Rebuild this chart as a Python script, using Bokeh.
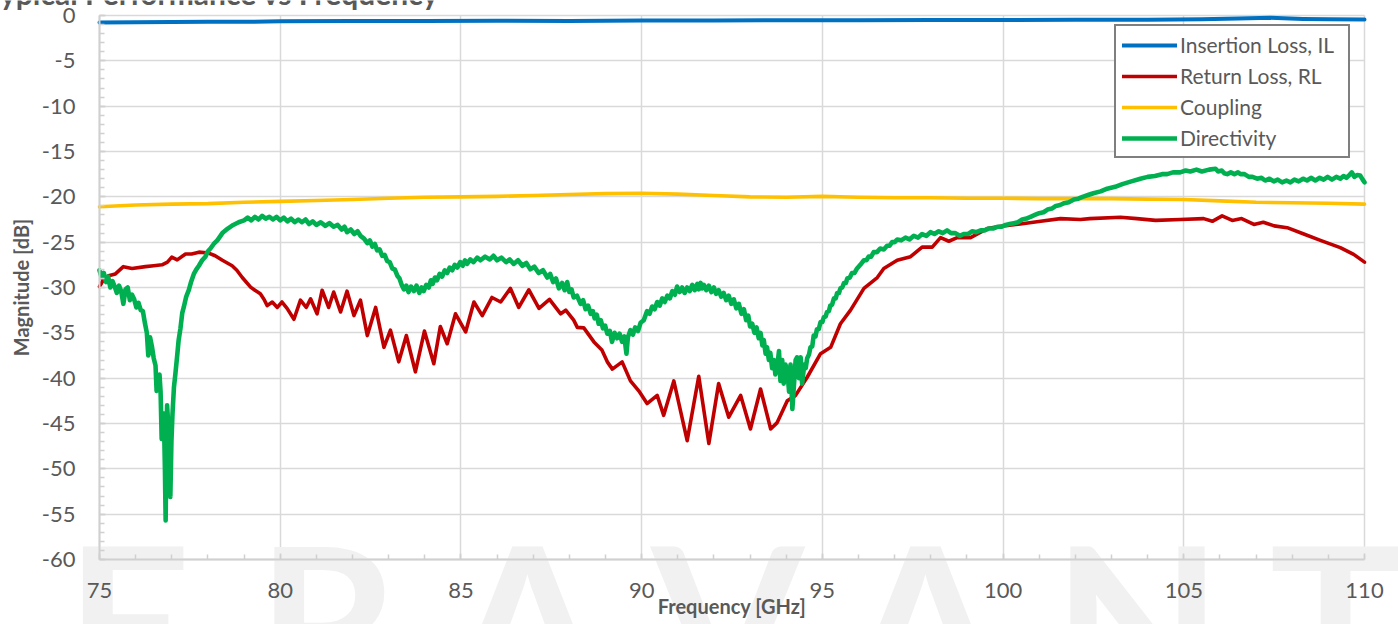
import math
from bokeh.plotting import figure
from bokeh.models import Range1d, SingleIntervalTicker, Label, Legend, LegendItem
from bokeh.embed import file_html
from bokeh.resources import INLINE

# ---------------- data ----------------
il_pts = [(75.0, -0.77), (76.0, -0.74), (77.0, -0.72), (78.0, -0.70), (79.0, -0.70), (80.0, -0.64),
          (82.0, -0.62), (84.0, -0.60), (86.0, -0.58), (88.0, -0.60), (90.0, -0.56), (92.0, -0.55),
          (94.0, -0.53), (96.0, -0.52), (98.0, -0.50), (100.0, -0.49), (102.0, -0.47), (104.0, -0.46),
          (105.5, -0.42), (106.5, -0.32), (107.4, -0.26), (108.3, -0.38), (109.0, -0.42), (110.0, -0.44)]

rl_pts = [(75.00, -29.9), (75.10, -29.2), (75.25, -28.7), (75.44, -28.5), (75.66, -27.7), (75.90, -27.9),
          (76.27, -27.7), (76.50, -27.6), (76.73, -27.5), (76.88, -27.2), (77.00, -26.65), (77.15, -26.95),
          (77.38, -26.3), (77.55, -26.3), (77.75, -26.1), (78.02, -26.2), (78.20, -26.5), (78.40, -27.0),
          (78.67, -27.6), (78.80, -28.1), (78.95, -28.9), (79.18, -29.96), (79.30, -30.3), (79.45, -30.7),
          (79.55, -31.3), (79.64, -32.0), (79.78, -31.6), (79.92, -32.2), (80.05, -31.6), (80.19, -32.3),
          (80.38, -33.5), (80.56, -31.4), (80.72, -32.2), (80.84, -31.25), (81.02, -32.9), (81.16, -30.3),
          (81.34, -32.2), (81.48, -30.5), (81.67, -32.7), (81.85, -30.4), (82.04, -33.1), (82.22, -31.4),
          (82.41, -35.3), (82.64, -32.2), (82.87, -36.6), (83.05, -34.7), (83.28, -38.2), (83.49, -35.3),
          (83.74, -39.3), (83.99, -34.8), (84.25, -38.4), (84.43, -34.3), (84.62, -36.2), (84.85, -32.9),
          (85.13, -34.9), (85.36, -31.6), (85.59, -33.1), (85.86, -31.1), (86.10, -31.6), (86.37, -30.1),
          (86.60, -32.2), (86.88, -30.25), (87.16, -32.3), (87.45, -31.3), (87.76, -32.9), (87.90, -32.5),
          (88.12, -33.6), (88.22, -34.4), (88.40, -34.45), (88.68, -36.0), (88.90, -36.9), (89.05, -38.2),
          (89.19, -39.0), (89.46, -38.2), (89.69, -40.3), (89.92, -41.4), (90.15, -42.8), (90.43, -41.9),
          (90.61, -44.1), (90.89, -40.3), (91.26, -46.9), (91.58, -39.8), (91.86, -47.2), (92.13, -40.6),
          (92.41, -44.3), (92.74, -41.9), (93.01, -45.6), (93.29, -41.2), (93.57, -45.6), (93.75, -44.9),
          (94.03, -42.5), (94.26, -41.9), (94.58, -39.9), (94.95, -37.3), (95.23, -36.6), (95.50, -34.0),
          (95.78, -32.5), (96.15, -30.1), (96.52, -28.9), (96.70, -27.9), (97.07, -27.0), (97.44, -26.6),
          (97.76, -25.55), (98.04, -25.55), (98.27, -24.5), (98.50, -24.9), (98.73, -24.5), (99.10, -24.5),
          (99.56, -23.5), (100.02, -23.2), (100.48, -23.0), (101.04, -22.7), (101.59, -22.4), (102.14, -22.5),
          (102.40, -22.4), (103.25, -22.25), (103.70, -22.4), (104.22, -22.6), (104.90, -22.5), (105.55, -22.4),
          (105.79, -22.7), (106.06, -22.1), (106.34, -22.6), (106.60, -22.4), (106.94, -23.05), (107.20, -22.8),
          (107.50, -23.2), (107.86, -23.4), (108.32, -24.1), (108.78, -24.8), (109.33, -25.6), (109.70, -26.35),
          (110.00, -27.2)]

cp_pts = [(75, -21.1), (76, -20.9), (77, -20.8), (78, -20.75), (79, -20.6), (80, -20.5), (81, -20.4),
          (82, -20.3), (83, -20.15), (84, -20.05), (85, -20.0), (86, -19.95), (87, -19.85), (88, -19.75),
          (89, -19.65), (90, -19.6), (91, -19.7), (92, -19.85), (93, -20.0), (94, -20.05), (95, -19.95),
          (96, -20.05), (97, -20.1), (98, -20.1), (99, -20.15), (100, -20.15), (101, -20.2), (102, -20.2),
          (103, -20.2), (104, -20.25), (105, -20.3), (106, -20.45), (107, -20.6), (108, -20.65),
          (109, -20.7), (110, -20.8)]

dir_pts = [(75.00, -28.1), (75.06, -28.9), (75.12, -28.4), (75.18, -29.4), (75.24, -28.8), (75.30, -30.0),
           (75.36, -29.3), (75.42, -29.9), (75.48, -30.6), (75.54, -29.8), (75.60, -30.4), (75.66, -31.8),
           (75.72, -30.2), (75.78, -30.0), (75.84, -31.4), (75.90, -30.8), (75.96, -31.3), (76.02, -32.2),
           (76.08, -31.7), (76.14, -32.5), (76.20, -32.6), (76.26, -34.0), (76.31, -35.0), (76.35, -37.5),
           (76.40, -35.5), (76.45, -36.5), (76.50, -37.8), (76.55, -38.6), (76.58, -41.4), (76.62, -40.0),
           (76.66, -39.6), (76.69, -41.5), (76.72, -46.7), (76.75, -44.5), (76.78, -43.9), (76.81, -50.0),
           (76.83, -55.7), (76.85, -48.0), (76.87, -43.0), (76.90, -45.0), (76.93, -50.0), (76.96, -53.1),
           (76.99, -47.0), (77.02, -43.9), (77.06, -41.0), (77.10, -39.5), (77.15, -37.5), (77.19, -35.8),
           (77.24, -34.5), (77.29, -32.8), (77.33, -32.2), (77.40, -31.0), (77.47, -30.3), (77.54, -29.3),
           (77.61, -28.5), (77.68, -28.0), (77.75, -27.6), (77.84, -27.0), (77.93, -26.6), (78.00, -26.0),
           (78.07, -25.7), (78.16, -25.2), (78.26, -24.8), (78.40, -24.0), (78.55, -23.5), (78.70, -23.1),
           (78.85, -22.8), (79.00, -22.6), (79.10, -22.3), (79.20, -22.6), (79.30, -22.2), (79.40, -22.5),
           (79.50, -22.1), (79.60, -22.4), (79.70, -22.2), (79.80, -22.5), (79.90, -22.2), (80.00, -22.6),
           (80.10, -22.3), (80.20, -22.7), (80.30, -22.4), (80.40, -22.8), (80.50, -22.5), (80.60, -22.8),
           (80.70, -22.5), (80.80, -23.0), (80.90, -22.7), (81.00, -23.1), (81.12, -22.8), (81.25, -23.2),
           (81.36, -22.9), (81.48, -23.3), (81.59, -23.1), (81.70, -23.6), (81.78, -23.3), (81.85, -23.9),
           (81.95, -23.6), (82.05, -24.1), (82.14, -23.8), (82.22, -24.3), (82.32, -24.6), (82.41, -25.1),
           (82.48, -24.8), (82.55, -25.5), (82.62, -25.2), (82.68, -25.9), (82.75, -25.8), (82.82, -26.5),
           (82.89, -26.4), (82.96, -27.1), (83.03, -27.2), (83.10, -27.9), (83.17, -28.0), (83.24, -28.7),
           (83.30, -29.0), (83.36, -29.7), (83.42, -30.2), (83.49, -29.8), (83.55, -30.5), (83.62, -29.9),
           (83.70, -30.4), (83.77, -29.8), (83.85, -30.6), (83.91, -30.0), (83.97, -30.4), (84.04, -29.7),
           (84.11, -30.0), (84.17, -29.2), (84.22, -29.6), (84.28, -28.9), (84.34, -29.2), (84.41, -28.5),
           (84.48, -28.8), (84.55, -28.1), (84.62, -28.4), (84.69, -27.8), (84.76, -28.1), (84.83, -27.5),
           (84.90, -27.8), (84.98, -27.2), (85.05, -27.6), (85.11, -27.0), (85.17, -27.4), (85.26, -26.9),
           (85.35, -27.2), (85.45, -26.7), (85.54, -27.0), (85.67, -26.6), (85.80, -26.9), (85.90, -26.5),
           (86.00, -27.0), (86.12, -26.7), (86.25, -27.2), (86.35, -26.9), (86.46, -27.4), (86.58, -27.0),
           (86.70, -27.6), (86.81, -27.3), (86.92, -28.0), (87.03, -27.7), (87.15, -28.4), (87.27, -28.1),
           (87.39, -28.9), (87.47, -28.5), (87.55, -29.4), (87.63, -29.0), (87.71, -30.1), (87.80, -29.5),
           (87.87, -30.3), (87.94, -29.4), (88.00, -30.5), (88.06, -30.2), (88.12, -31.1), (88.21, -30.9),
           (88.31, -31.8), (88.38, -31.4), (88.45, -32.4), (88.52, -32.0), (88.59, -32.9), (88.65, -32.6),
           (88.70, -33.4), (88.76, -33.0), (88.81, -34.0), (88.87, -33.6), (88.93, -34.5), (88.99, -34.2),
           (89.05, -35.1), (89.12, -34.8), (89.18, -36.0), (89.25, -35.0), (89.32, -35.6), (89.39, -35.1),
           (89.46, -36.0), (89.52, -35.4), (89.58, -37.3), (89.62, -35.5), (89.69, -34.7), (89.76, -35.2),
           (89.82, -34.4), (89.90, -34.8), (89.97, -33.9), (90.06, -33.6), (90.15, -32.6), (90.22, -32.9),
           (90.29, -32.1), (90.36, -32.4), (90.43, -31.6), (90.50, -32.0), (90.57, -31.2), (90.64, -31.6),
           (90.71, -30.9), (90.78, -31.2), (90.85, -30.4), (90.92, -30.8), (90.98, -29.9), (91.05, -30.5),
           (91.12, -30.0), (91.19, -30.6), (91.26, -30.0), (91.33, -30.4), (91.40, -29.7), (91.47, -30.3),
           (91.54, -29.6), (91.58, -30.2), (91.63, -29.5), (91.68, -30.1), (91.72, -29.7), (91.79, -30.3),
           (91.86, -29.8), (91.93, -30.5), (92.00, -30.0), (92.06, -30.7), (92.13, -30.3), (92.20, -31.0),
           (92.27, -30.6), (92.34, -31.4), (92.41, -30.9), (92.48, -31.8), (92.55, -31.3), (92.62, -32.3),
           (92.69, -31.8), (92.76, -32.9), (92.83, -32.4), (92.89, -33.6), (92.95, -33.1), (93.00, -34.3),
           (93.06, -34.0), (93.12, -35.0), (93.18, -34.4), (93.24, -35.6), (93.29, -35.0), (93.34, -36.4),
           (93.38, -35.8), (93.43, -37.3), (93.47, -36.6), (93.52, -38.0), (93.56, -37.2), (93.61, -38.9),
           (93.66, -38.0), (93.70, -39.6), (93.75, -38.8), (93.80, -37.0), (93.84, -40.3), (93.89, -38.0),
           (93.93, -40.6), (93.98, -38.5), (94.03, -39.2), (94.08, -41.5), (94.12, -38.5), (94.17, -43.4),
           (94.21, -41.0), (94.26, -38.0), (94.30, -37.7), (94.35, -40.0), (94.40, -37.7), (94.44, -40.6),
           (94.50, -38.5), (94.54, -38.9), (94.58, -37.8), (94.63, -37.4), (94.67, -36.6), (94.72, -36.5),
           (94.76, -35.3), (94.81, -35.4), (94.85, -34.6), (94.90, -34.6), (94.95, -33.8), (95.00, -33.8),
           (95.04, -33.3), (95.09, -33.2), (95.13, -32.7), (95.18, -32.6), (95.22, -32.0), (95.27, -31.9),
           (95.32, -31.2), (95.37, -31.2), (95.41, -30.6), (95.46, -30.6), (95.50, -30.1), (95.55, -30.0),
           (95.60, -29.5), (95.65, -29.5), (95.69, -29.0), (95.76, -28.9), (95.82, -28.4), (95.89, -28.4),
           (95.96, -27.9), (96.05, -27.5), (96.15, -27.0), (96.22, -27.0), (96.28, -26.6), (96.35, -26.6),
           (96.42, -26.1), (96.51, -26.1), (96.60, -25.7), (96.70, -25.8), (96.79, -25.4), (96.86, -25.4),
           (96.93, -25.0), (97.00, -25.0), (97.07, -24.7), (97.18, -24.8), (97.30, -24.5), (97.41, -24.7),
           (97.53, -24.3), (97.65, -24.5), (97.76, -24.1), (97.88, -24.3), (97.99, -23.9), (98.10, -24.1),
           (98.22, -23.8), (98.33, -24.0), (98.45, -23.7), (98.56, -24.0), (98.68, -24.0), (98.80, -24.3),
           (98.91, -24.1), (99.03, -24.1), (99.15, -23.8), (99.26, -23.9), (99.38, -23.7), (99.49, -23.7),
           (99.60, -23.5), (99.72, -23.5), (99.84, -23.3), (99.95, -23.3), (100.07, -23.1), (100.18, -23.0),
           (100.30, -22.9), (100.41, -22.8), (100.53, -22.5), (100.65, -22.4), (100.76, -22.2), (100.88, -22.0),
           (101.00, -21.8), (101.12, -21.7), (101.23, -21.4), (101.35, -21.3), (101.46, -21.0), (101.58, -20.9),
           (101.69, -20.7), (101.82, -20.6), (101.96, -20.3), (102.08, -20.2), (102.20, -20.0), (102.35, -19.8),
           (102.50, -19.6), (102.70, -19.4), (102.88, -19.1), (103.10, -18.9), (103.30, -18.6), (103.55, -18.3),
           (103.80, -18.0), (104.00, -17.8), (104.20, -17.7), (104.40, -17.5), (104.54, -17.5), (104.70, -17.3),
           (104.90, -17.3), (105.05, -17.1), (105.18, -17.2), (105.35, -17.0), (105.50, -17.2), (105.70, -17.0),
           (105.88, -16.9), (105.95, -17.2), (106.05, -17.1), (106.12, -17.4), (106.20, -17.5), (106.30, -17.3),
           (106.40, -17.5), (106.50, -17.3), (106.57, -17.5), (106.68, -17.5), (106.80, -17.8), (106.90, -17.8),
           (107.03, -18.0), (107.15, -17.9), (107.25, -18.2), (107.37, -18.0), (107.49, -18.3), (107.60, -18.1),
           (107.72, -18.4), (107.84, -18.2), (107.95, -18.4), (108.06, -18.1), (108.18, -18.3), (108.30, -18.0),
           (108.41, -18.2), (108.52, -17.9), (108.64, -18.2), (108.76, -17.9), (108.87, -18.1), (108.98, -17.8),
           (109.10, -18.1), (109.22, -17.8), (109.33, -18.0), (109.42, -17.7), (109.50, -17.9), (109.58, -17.6),
           (109.65, -17.3), (109.72, -17.8), (109.80, -17.6), (109.88, -17.65), (109.95, -18.1), (110.00, -18.4)]

series_names = ["Insertion Loss, IL", "Return Loss, RL", "Coupling", "Directivity"]
series_colors = ["#0070c0", "#c00000", "#ffc000", "#00b050"]
series_widths = [4, 3.6, 3.6, 4.6]
x_ticks = list(range(75, 111, 5))
y_ticks = list(range(-60, 1, 5))
x_ticks_labels = {v: str(v) for v in x_ticks}
y_ticks_labels = {v: str(v) for v in y_ticks}

title_text = "Typical Performance vs Frequency"
x_title = "Frequency [GHz]"
y_title = "Magnitude [dB]"
watermark_letters = ["E", "R", "A", "V", "A", "N", "T"]
watermark_x = [75.80, 81.31, 86.84, 92.38, 97.85, 103.72, 109.20]

# ---------------- figure ----------------
GRID = "#d9d9d9"
TXT = "#595959"
FONT = "Lato"
W, H = 1398, 624
PL, PR, PT, PB = 99, 1364, 15, 559           # plot-area edges in canvas pixels
XMIN, XMAX, YMIN, YMAX = 75, 110, -60, 0
kx = (PR - PL) / (XMAX - XMIN)
ky = (PB - PT) / (YMAX - YMIN)

# the frame covers the whole canvas; axes are pinned at the plot-area edges
p = figure(width=W, height=H,
           x_range=Range1d(XMIN - PL / kx, XMAX + (W - PR) / kx),
           y_range=Range1d(YMIN - (H - PB) / ky, YMAX + PT / ky),
           output_backend="svg", toolbar_location=None,
           min_border_left=0, min_border_right=0, min_border_top=0, min_border_bottom=0)
p.background_fill_color = "white"
p.border_fill_color = "white"
p.outline_line_color = None

xt = SingleIntervalTicker(interval=5, num_minor_ticks=5)
yt = SingleIntervalTicker(interval=5, num_minor_ticks=5)
p.xaxis.ticker = xt
p.yaxis.ticker = yt
p.xgrid.ticker = xt
p.ygrid.ticker = yt
p.xaxis.fixed_location = YMIN
p.yaxis.fixed_location = XMIN
p.xaxis.bounds = (XMIN, XMAX)
p.yaxis.bounds = (YMIN, YMAX)

use_grid = True
try:
    p.xgrid[0].cross_bounds = (YMIN, YMAX)
    p.ygrid[0].cross_bounds = (XMIN, XMAX)
except Exception:
    use_grid = False
for g in (p.xgrid, p.ygrid):
    g.grid_line_color = GRID if use_grid else None
    g.grid_line_width = 1.5
if not use_grid:
    p.segment(x0=x_ticks, y0=[YMIN] * len(x_ticks), x1=x_ticks, y1=[YMAX] * len(x_ticks),
              line_color=GRID, line_width=1.5, level="underlay")
    p.segment(x0=[XMIN] * len(y_ticks), y0=y_ticks, x1=[XMAX] * len(y_ticks), y1=y_ticks,
              line_color=GRID, line_width=1.5, level="underlay")

for ax in (p.xaxis[0], p.yaxis[0]):
    ax.axis_line_color = "#d0d0d0"
    ax.axis_line_width = 2
    ax.major_tick_in = 6
    ax.major_tick_out = 0
    ax.minor_tick_in = 5
    ax.minor_tick_out = 0
    ax.major_tick_line_color = "#d0d0d0"
    ax.minor_tick_line_color = "#d0d0d0"
    ax.major_tick_line_width = 1.5
    ax.minor_tick_line_width = 1.5
    ax.major_label_text_font = FONT
    ax.major_label_text_font_size = "22px"
    ax.major_label_text_color = TXT
    ax.axis_label_text_font = FONT
    ax.axis_label_text_font_style = "bold"
    ax.axis_label_text_font_size = "20px"
    ax.axis_label_text_color = TXT
p.xaxis.major_label_standoff = 23
p.yaxis.major_label_standoff = 24
p.xaxis.major_label_overrides = x_ticks_labels
p.yaxis.major_label_overrides = y_ticks_labels
p.xaxis.axis_label = x_title
p.yaxis.axis_label = y_title
p.xaxis.axis_label_standoff = -7
p.yaxis.axis_label_standoff = 6

# light watermark behind everything (only its upper part is inside the picture)
WM_SIZE = 220
wm_cap_top = 548
wm_center = wm_cap_top + 0.7165 * WM_SIZE - 0.387 * WM_SIZE
for ch, wx in zip(watermark_letters, watermark_x):
    p.add_layout(Label(x=wx, y=YMAX - (wm_center - PT) / ky, text=ch, text_align="center",
                       text_baseline="middle", text_font=FONT, text_font_style="bold",
                       text_font_size=f"{WM_SIZE}px", text_color="#f1f1f1", level="underlay"))

renderers = []
for pts, name, col, w in zip([il_pts, rl_pts, cp_pts, dir_pts], series_names, series_colors, series_widths):
    xs = [a for a, b in pts]
    ys = [b for a, b in pts]
    r = p.line(xs, ys, line_color=col, line_width=w, line_cap="round", line_join="round")
    renderers.append(r)

legend = Legend(items=[LegendItem(label=n, renderers=[r]) for n, r in zip(series_names, renderers)],
                location=(1114, H - 158))
legend.padding = 6
legend.spacing = 6
legend.glyph_width = 55
legend.glyph_height = 22
legend.label_height = 22
legend.label_width = 162
legend.label_standoff = 3
legend.label_text_font = FONT
legend.label_text_font_size = "21px"
legend.label_text_color = TXT
legend.border_line_color = "black"
legend.border_line_width = 2
legend.background_fill_color = "white"
legend.background_fill_alpha = 1
p.add_layout(legend)

# chart title, cut by the top edge as in the original picture
TITLE_SIZE = 30
title_baseline = 4.5
title_center = title_baseline - 0.387 * TITLE_SIZE
p.add_layout(Label(x=XMIN + (-16 - PL) / kx, y=YMAX + (PT - title_center) / ky, text=title_text,
                   text_font=FONT, text_font_style="bold", text_font_size=f"{TITLE_SIZE}px",
                   text_color=TXT, text_baseline="middle"))

open("out.html", "w").write(file_html(p, INLINE))
